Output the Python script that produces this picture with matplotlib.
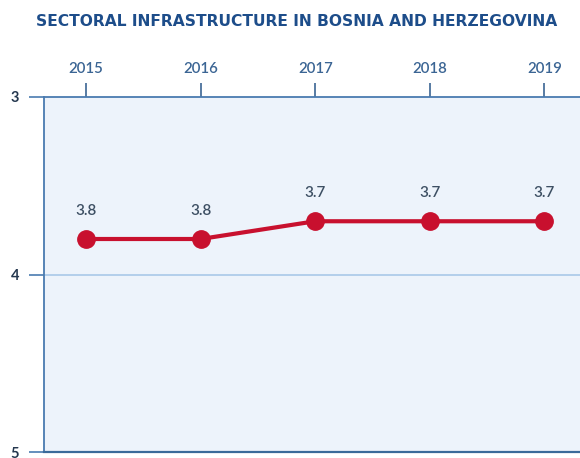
import matplotlib
matplotlib.use("Agg")
import matplotlib.pyplot as plt

years = [2015, 2016, 2017, 2018, 2019]
values = [3.8, 3.8, 3.7, 3.7, 3.7]
labels = ["3.8", "3.8", "3.7", "3.7", "3.7"]
yticks = [3, 4, 5]

plt.rcParams['font.family'] = ['Lato', 'DejaVu Sans']

fig = plt.figure(figsize=(5.8, 4.58), dpi=100)
ax = fig.add_axes([44/580, 6/458, 1 - 44/580, (452-97)/458])
ax.set_facecolor('#edf3fb')

ax.plot(years, values, color='#c8102e', lw=3.0, marker='o', markersize=12.5, zorder=3)
for x, v, t in zip(years, values, labels):
    ax.annotate(t, (x, v), xytext=(0, 15), textcoords='offset points', ha='center', va='bottom',
                fontsize=11, color='#3d4f63', fontweight='semibold')

ax.set_xlim(2014.633, 2019.31)
ax.set_ylim(5, 3)
ax.set_yticks(yticks)
ax.set_yticklabels([str(t) for t in yticks], fontsize=10.5, fontweight='bold', color='#25384f')
ax.axhline(4, color='#a9c8e8', lw=1.2, zorder=1)

ax.xaxis.tick_top()
ax.set_xticks(years)
ax.set_xticklabels([str(y) for y in years], fontsize=10.8, color='#3b6594', fontweight='semibold')
ax.tick_params(axis='x', direction='out', length=10, width=1.2, color='#3b6594', pad=5)
ax.tick_params(axis='y', direction='out', length=11, width=1.2, color='#4a7bb0', pad=7)

for s in ['top', 'left']:
    ax.spines[s].set_color('#4a7bb0')
    ax.spines[s].set_linewidth(1.3)
ax.spines['bottom'].set_color('#3a6a9a')
ax.spines['bottom'].set_linewidth(1.6)
ax.spines['right'].set_visible(False)

fig.text(0.512, 0.952, "SECTORAL INFRASTRUCTURE IN BOSNIA AND HERZEGOVINA", ha='center', va='center',
         fontsize=11.2, fontweight='bold', color='#1d4d8a', family=['DejaVu Sans'])

fig.savefig('out.png', dpi=100)
